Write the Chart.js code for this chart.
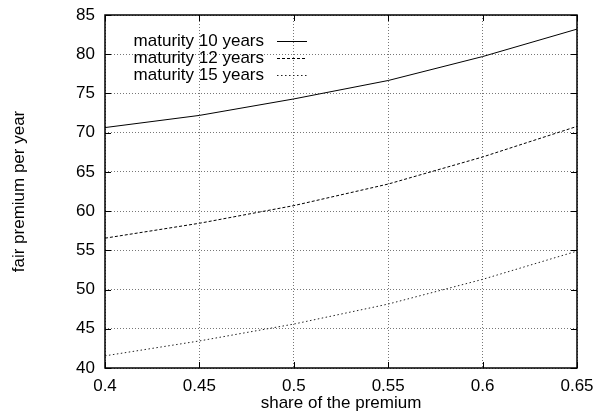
<!DOCTYPE html>
<html>
<head>
<meta charset="utf-8">
<script src="https://cdn.jsdelivr.net/npm/chart.js@4/dist/chart.umd.min.js"></script>
<style>
  html, body { margin: 0; padding: 0; background: #fff; }
  #wrap { width: 595px; height: 412px; }
</style>
</head>
<body>
<div id="wrap"><canvas id="chart" width="595" height="412"></canvas></div>
<script>
// share of the premium (x values)
const shares = [0.4, 0.45, 0.5, 0.55, 0.6, 0.65];

// fair premium per year
const maturity10 = [70.65, 72.2, 74.3, 76.65, 79.7, 83.2];
const maturity12 = [56.55, 58.45, 60.7, 63.45, 66.9, 70.8];
const maturity15 = [41.55, 43.45, 45.6, 48.15, 51.3, 54.9];

const seriesLabels = ['maturity 10 years', 'maturity 12 years', 'maturity 15 years'];

const FONT = 'Liberation Sans, Arial, Helvetica, sans-serif';
const FSIZE = 17;

function toPoints(ys) {
    return shares.map((x, i) => ({ x: x, y: ys[i] }));
}

// gnuplot style key: text right aligned, then a line sample
const keyPlugin = {
    id: 'gnuKey',
    afterDatasetsDraw(chart) {
        const ctx = chart.ctx;
        const area = chart.chartArea;
        ctx.save();
        ctx.font = FSIZE + 'px ' + FONT;
        ctx.textAlign = 'right';
        ctx.textBaseline = 'middle';
        chart.data.datasets.forEach((ds, i) => {
            const y = area.top + 26 + i * 17;
            const textRight = area.left + 159;
            ctx.fillStyle = '#000';
            ctx.fillText(ds.label, textRight, y);
            ctx.beginPath();
            ctx.setLineDash(ds.borderDash || []);
            ctx.strokeStyle = ds.borderColor;
            ctx.lineWidth = 1;
            ctx.moveTo(textRight + 13, y + 0.5);
            ctx.lineTo(textRight + 43, y + 0.5);
            ctx.stroke();
        });
        ctx.restore();
    }
};

// inward ticks on all four sides, plus the border
const frameTicks = {
    id: 'frameTicks',
    afterDraw(chart) {
        const ctx = chart.ctx;
        const a = chart.chartArea;
        const xs = chart.scales.x, ys = chart.scales.y;
        const len = 6;
        ctx.save();
        ctx.strokeStyle = '#000';
        ctx.lineWidth = 1;
        ctx.setLineDash([]);
        ctx.beginPath();
        xs.ticks.forEach(t => {
            const px = Math.round(xs.getPixelForValue(t.value)) + 0.5;
            ctx.moveTo(px, a.bottom); ctx.lineTo(px, a.bottom - len);
            ctx.moveTo(px, a.top); ctx.lineTo(px, a.top + len);
        });
        ys.ticks.forEach(t => {
            const py = Math.round(ys.getPixelForValue(t.value)) + 0.5;
            ctx.moveTo(a.left, py); ctx.lineTo(a.left + len, py);
            ctx.moveTo(a.right, py); ctx.lineTo(a.right - len, py);
        });
        ctx.stroke();
        ctx.lineWidth = 1.5;
        ctx.strokeRect(a.left, a.top, a.right - a.left, a.bottom - a.top);
        ctx.restore();
    }
};

const gridStyle = {
    color: '#777',
    lineWidth: 1,
    tickLength: 0,
    drawTicks: false
};

new Chart(document.getElementById('chart'), {
    type: 'line',
    data: {
        datasets: [
            { label: seriesLabels[0], data: toPoints(maturity10), borderColor: '#000', borderWidth: 1, borderDash: [] },
            { label: seriesLabels[1], data: toPoints(maturity12), borderColor: '#000', borderWidth: 1, borderDash: [3, 2] },
            { label: seriesLabels[2], data: toPoints(maturity15), borderColor: '#222', borderWidth: 1, borderDash: [1.5, 2.5] }
        ]
    },
    options: {
        responsive: false,
        animation: false,
        events: [],
        elements: { point: { radius: 0 }, line: { tension: 0 } },
        layout: { padding: { top: 15, right: 18, left: 0, bottom: 0 } },
        plugins: {
            legend: { display: false },
            tooltip: { enabled: false }
        },
        scales: {
            x: {
                type: 'linear',
                min: 0.4,
                max: 0.65,
                ticks: {
                    stepSize: 0.05,
                    color: '#000',
                    font: { family: FONT, size: FSIZE },
                    padding: 8,
                    maxRotation: 0,
                    callback: v => String(Number(v.toFixed(2)))
                },
                grid: gridStyle,
                border: { display: false, dash: [1, 2] },
                title: {
                    display: true,
                    text: 'share of the premium',
                    color: '#000',
                    font: { family: FONT, size: FSIZE },
                    padding: { top: 0, bottom: -2 }
                },
                afterFit(scale) {
                    scale.height = 44;
                    scale.paddingLeft = 0;
                    scale.paddingRight = 0;
                }
            },
            y: {
                min: 40,
                max: 85,
                ticks: {
                    stepSize: 5,
                    color: '#000',
                    font: { family: FONT, size: FSIZE },
                    padding: 10
                },
                grid: gridStyle,
                border: { display: false, dash: [1, 2] },
                title: {
                    display: true,
                    text: 'fair premium per year',
                    color: '#000',
                    font: { family: FONT, size: FSIZE },
                    padding: { top: 9, bottom: 0 }
                },
                afterFit(scale) {
                    scale.width = 105;
                    scale.paddingTop = 0;
                    scale.paddingBottom = 0;
                }
            }
        }
    },
    plugins: [keyPlugin, frameTicks]
});
</script>
</body>
</html>
